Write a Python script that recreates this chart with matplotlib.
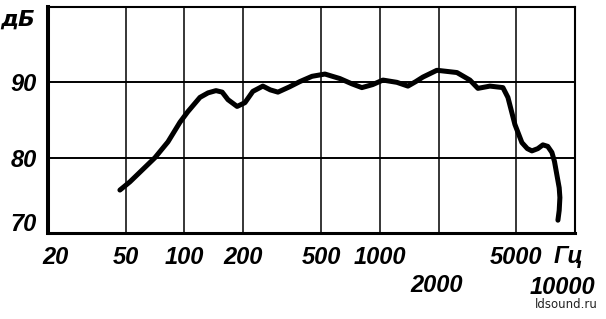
import numpy as np
import matplotlib
matplotlib.use('Agg')
import matplotlib.pyplot as plt
from matplotlib.transforms import ScaledTranslation, blended_transform_factory

# frequency response
freq_hz = [46.7, 52.6, 70.6, 82.3, 94.8, 104, 120, 132, 145, 156, 167, 186, 204, 224, 252,
           275, 301, 345, 390, 450, 524, 625, 720, 810, 920, 1038, 1224, 1394, 1530, 1664,
           1962, 2485, 2896, 3182, 3668, 4274, 4534, 4924, 5346, 5700, 6016, 6450, 6848,
           7250, 7614, 7850, 8078, 8300, 8368, 8300, 8176]
level_db = [75.7, 76.8, 80.0, 82.1, 84.7, 86.1, 88.0, 88.6, 88.9, 88.7, 87.7, 86.8, 87.3, 88.8, 89.5,
            89.0, 88.7, 89.4, 90.1, 90.8, 91.1, 90.5, 89.8, 89.3, 89.7, 90.3, 90.0, 89.5, 90.1, 90.7,
            91.6, 91.3, 90.3, 89.2, 89.5, 89.3, 88.0, 84.4, 82.0, 81.2, 80.9, 81.2, 81.7,
            81.5, 80.7, 79.5, 77.7, 76.0, 74.7, 73.0, 71.7]

x_ticks = [20, 50, 100, 200, 500, 1000, 2000, 5000, 10000]
x_labels = ['20', '50', '100', '200', '500', '1000', '2000', '5000', '10000']
y_ticks = [70, 80, 90]
y_labels = ['70', '80', '90']

lab_font = dict(family='Liberation Sans', style='italic', weight='bold', size=17)

fig = plt.figure(figsize=(6.06, 3.19), dpi=100)
ax = fig.add_axes([48 / 606, 1 - 233 / 319, 527 / 606, 226 / 319])

ax.set_xscale('log')
ax.set_xlim(20, 10000)
ax.set_ylim(70, 100)

# grid lines
for f in x_ticks[1:-1]:
    ax.axvline(f, color='black', lw=1.1, zorder=1)
for d in [80, 90]:
    ax.axhline(d, color='black', lw=1.4, zorder=1)

# the curve
ax.plot(freq_hz, level_db, color='black', lw=3.6, solid_joinstyle='round',
        solid_capstyle='round', zorder=3)

# frame
ax.spines['left'].set_linewidth(2.9)
ax.spines['bottom'].set_linewidth(2.2)
ax.spines['top'].set_linewidth(1.5)
ax.spines['right'].set_linewidth(1.5)

ax.minorticks_off()
ax.set_xticks(x_ticks)
ax.set_xticklabels(x_labels, fontdict=lab_font)
ax.set_yticks(y_ticks)
ax.set_yticklabels(y_labels, fontdict=lab_font)
ax.tick_params(axis='x', length=0, pad=9)
ax.tick_params(axis='y', length=0, pad=8)


def shift(label, dx, dy):
    # move a tick label by dx, dy pixels
    label.set_transform(label.get_transform() + ScaledTranslation(dx / 100, dy / 100, fig.dpi_scale_trans))


# shift some labels like in the original
ylbls = ax.get_yticklabels()
shift(ylbls[0], 0, 11)
xlbls = ax.get_xticklabels()
shift(xlbls[0], 8, 0)
shift(xlbls[6], -2, -29)   # 2000 on the second row
shift(xlbls[8], -13, -30)  # 10000 on the second row

# units
trans = blended_transform_factory(ax.transData, ax.transAxes)
ax.text(9300, -0.105, 'Гц', ha='center', va='center', transform=trans, **lab_font)
ax.text(-0.024, 98.3, 'дБ', ha='right', va='center',
        transform=blended_transform_factory(ax.transAxes, ax.transData),
        family='DejaVu Sans', style='oblique', weight='bold', size=16)

fig.text(598 / 606, 1 - 305 / 319, 'ldsound.ru', ha='right', va='center',
         fontsize=8.5, color='#222222', family='DejaVu Sans')

fig.savefig('out.png', dpi=100)
